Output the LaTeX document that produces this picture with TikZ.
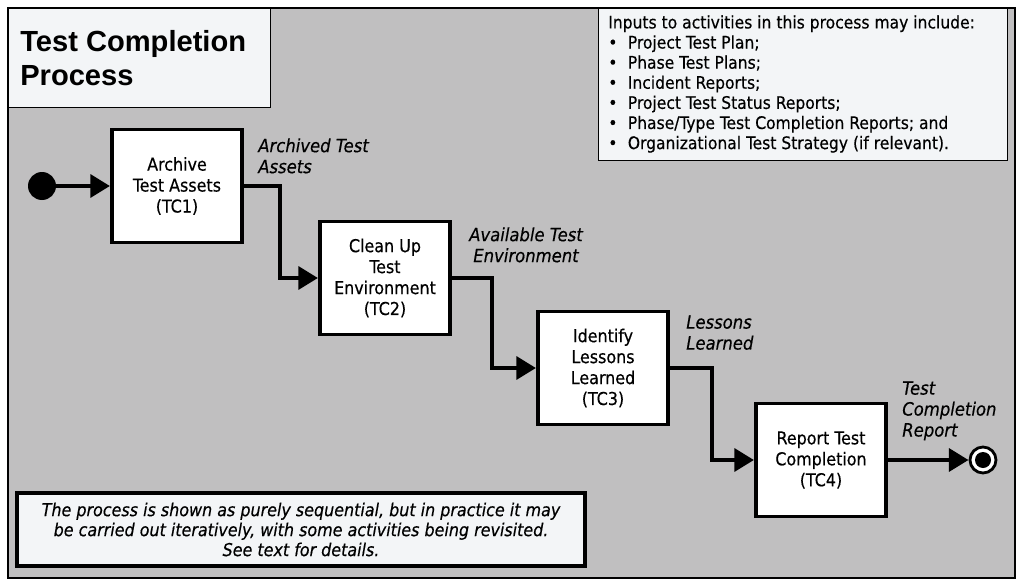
\documentclass[tikz,border=0pt]{standalone}
\usepackage{fontspec}
\setmainfont{DejaVu Sans Condensed}[FakeBold=0.4]
\newfontfamily\titlefont{Liberation Sans}
\usepackage{tikz}
\usetikzlibrary{arrows.meta}
\usetikzlibrary{positioning}
\definecolor{mgray}{RGB}{192, 191, 192}
\definecolor{mpale}{RGB}{243, 245, 247}

\begin{document}
\begin{tikzpicture}[x=0.025cm, y=-0.025cm,
    activity/.style={draw, line width=2.8pt, fill=white, minimum width=130*0.025cm,
      minimum height=113*0.025cm, align=center, font=\fontsize{12.6}{14.9}\selectfont, inner sep=0pt},
    flow/.style={line width=3.4pt, -{Triangle[length=14pt, width=16pt]}},
    product/.style={font=\fontsize{13}{14.9}\selectfont\itshape, inner sep=0pt}]
      \useasboundingbox (0,0) rectangle (1021,585);
      \draw [fill=mgray, line width=0.8pt] (8,8) rectangle (1015,578);

      \node [draw, line width=0.8pt, fill=mpale, minimum width=262*0.025cm, minimum height=99*0.025cm,
        anchor=north west] (titlebox) at (8,8) {};
      \node [anchor=north west, align=left, inner sep=0pt, font=\titlefont\bfseries\fontsize{20.7}{24}\selectfont]
        (title) at (20,30) {Test Completion\\Process};

      \node [draw, line width=0.8pt, fill=mpale, minimum width=409*0.025cm, minimum height=152*0.025cm,
        anchor=north west] (inputbox) at (598,8) {};
      \node [anchor=north west, align=left, inner sep=0pt, font=\fontsize{12.3}{14.3}\selectfont]
        (inputs) at (608,15) {Inputs to activities in this process may include:\\
        \textbullet\hspace{0.6em}Project Test Plan;\\
        \textbullet\hspace{0.6em}Phase Test Plans;\\
        \textbullet\hspace{0.6em}Incident Reports;\\
        \textbullet\hspace{0.6em}Project Test Status Reports;\\
        \textbullet\hspace{0.6em}Phase/Type Test Completion Reports; and\\
        \textbullet\hspace{0.6em}Organizational Test Strategy (if relevant).};

      \node [activity] (tc1) at (177,186) {Archive\\Test Assets\\(TC1)};
      \node [activity] (tc2) at (385,278) {Clean Up\\Test\\Environment\\(TC2)};
      \node [activity] (tc3) at (603,368) {Identify\\Lessons\\Learned\\(TC3)};
      \node [activity] (tc4) at (821,460) {Report Test\\Completion\\(TC4)};

      \node [circle, fill=black, minimum size=28*0.025cm, inner sep=0pt] (start) at (42,186) {};
      \node [circle, draw, line width=2pt, fill=white, minimum size=26*0.025cm, inner sep=0pt] (stop) at (983,460) {};
      \node [circle, fill=black, minimum size=16*0.025cm, inner sep=0pt] (stopdot) at (stop) {};

      \draw [flow] (start) -- (tc1);
      \draw [flow] (tc1.east) -| (280,240) |- (tc2.west);
      \draw [flow] (tc2.east) -| (492,330) |- (tc3.west);
      \draw [flow] (tc3.east) -| (712,420) |- (tc4.west);
      \draw [flow] (tc4.east) -- (stop.west);

      \node [product, align=left, anchor=north west] (assets) at (258,138) {Archived Test\\Assets};
      \node [product, align=center, anchor=north] (env) at (526,227) {Available Test\\Environment};
      \node [product, align=left, anchor=north west] (lessons) at (686,315) {Lessons\\Learned};
      \node [product, align=left, anchor=north west] (report) at (902,381) {Test\\Completion\\Report};

      \node [draw, line width=2.2pt, fill=mpale, minimum width=568*0.025cm, minimum height=73*0.025cm,
        align=center, font=\fontsize{12.6}{14.2}\selectfont\itshape, inner sep=0pt] (note) at (301,529.5)
        {The process is shown as purely sequential, but in practice it may\\
        be carried out iteratively, with some activities being revisited.\\
        See text for details.};
    \end{tikzpicture}
\end{document}
